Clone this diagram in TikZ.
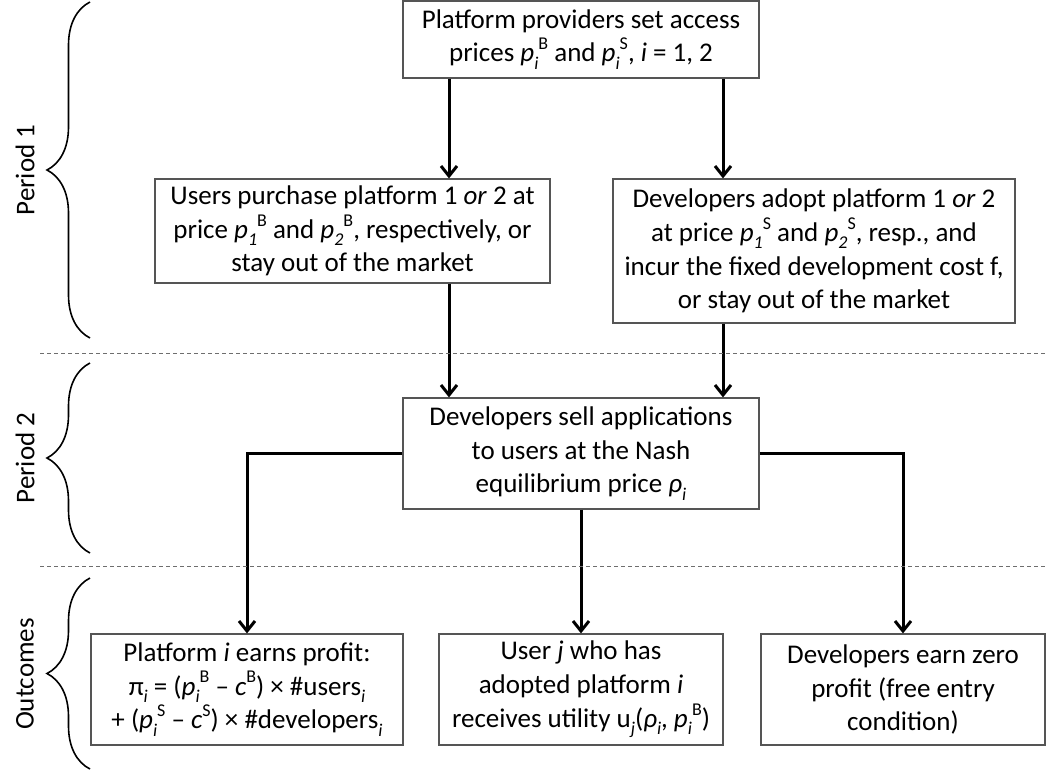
\documentclass[tikz,border=0pt]{standalone}
\usepackage{fontspec}
\setmainfont{Carlito}
\usetikzlibrary{arrows.meta, positioning, calc, decorations.pathreplacing}

\definecolor{boxgray}{RGB}{85, 85, 85}
\definecolor{dashgray}{RGB}{110, 110, 110}

% small raised / lowered indices in running text
\newcommand{\suph}[1]{\raisebox{0.45em}{\fontsize{9}{9}\selectfont #1}}
\newcommand{\subl}[1]{\raisebox{-0.28em}{\fontsize{9}{9}\selectfont\itshape #1}}
\newcommand{\price}[2]{\textit{p}\subl{#1}\suph{#2}}

\tikzset{
  stage/.style={draw=boxgray, line width=0.6pt, fill=white, align=center, inner sep=0pt},
  flow/.style={-{Straight Barb[length=5pt, width=8pt]}, line width=1.5pt},
  divider/.style={draw=dashgray, dash pattern=on 2pt off 1.5pt, line width=0.5pt},
  period/.style={decorate, decoration={brace, amplitude=21.5pt}, line width=0.8pt},
}

\begin{document}
\begin{tikzpicture}[x=0.5pt, y=0.5pt, font=\fontsize{13.5}{16.8}\selectfont]
  \useasboundingbox (0,0) rectangle (1047,-771);

  % period 1
  \node[stage, minimum width=178pt, minimum height=38.5pt] (prices) at (581,-39.5) {
    Platform providers set access\\
    prices \price{i}{B} and \price{i}{S}, \textit{i} = 1, 2
  };
  \node[stage, minimum width=197.5pt, minimum height=52pt] (users) at (352.5,-231) {
    Users purchase platform 1 \textit{or} 2 at\\
    price \price{1}{B} and \price{2}{B}, respectively, or\\
    stay out of the market
  };
  \node[stage, minimum width=201pt, minimum height=72pt] (devs) at (814,-251) {
    Developers adopt platform 1 \textit{or} 2\\
    at price \price{1}{S} and \price{2}{S}, resp., and\\
    incur the fixed development cost f,\\
    or stay out of the market
  };

  % period 2
  \node[stage, minimum width=178pt, minimum height=55.5pt] (nash) at (581,-453.5) {
    Developers sell applications\\
    to users at the Nash\\
    equilibrium price \textit{ρ}\subl{i}
  };

  % outcomes
  \node[stage, minimum width=156pt, minimum height=55.5pt] (profit) at (247,-689.5) {
    Platform \textit{i} earns profit:\\
    π\subl{i} = (\price{i}{B} – \textit{c}\suph{B}) × \#users\subl{i}\\
    + (\price{i}{S} – \textit{c}\suph{S}) × \#developers\subl{i}
  };
  \node[stage, minimum width=142pt, minimum height=55.5pt] (utility) at (581,-689.5) {
    User \textit{j} who has\\
    adopted platform \textit{i}\\
    receives utility u\subl{j}(\textit{ρ}\subl{i}, \price{i}{B})
  };
  \node[stage, minimum width=142pt, minimum height=55.5pt] (entry) at (903,-689.5) {
    Developers earn zero\\
    profit (free entry\\
    condition)
  };

  % arrow columns
  \coordinate (lcol) at (449,0);
  \coordinate (rcol) at (723,0);

  \draw[flow] (prices.south -| lcol) -- (users.north -| lcol);
  \draw[flow] (prices.south -| rcol) -- (devs.north -| rcol);
  \draw[flow] (users.south -| lcol) -- (nash.north -| lcol);
  \draw[flow] (devs.south -| rcol) -- (nash.north -| rcol);
  \draw[flow] (nash.west) -| (profit.north);
  \draw[flow] (nash.south) -- (utility.north);
  \draw[flow] (nash.east) -| (entry.north);

  % stage dividers
  \draw[divider] (40,-353) -- (1047,-353);
  \draw[divider] (40,-566) -- (1047,-566);

  % braces and stage labels
  \draw[period] (90,-338) -- (90,-2);
  \draw[period] (90,-553) -- (90,-363);
  \draw[period] (90,-769) -- (90,-578);
  \node[rotate=90] (lab1) at (25,-170) {Period 1};
  \node[rotate=90] (lab2) at (25,-458) {Period 2};
  \node[rotate=90] (lab3) at (25,-674) {Outcomes};
\end{tikzpicture}
\end{document}
